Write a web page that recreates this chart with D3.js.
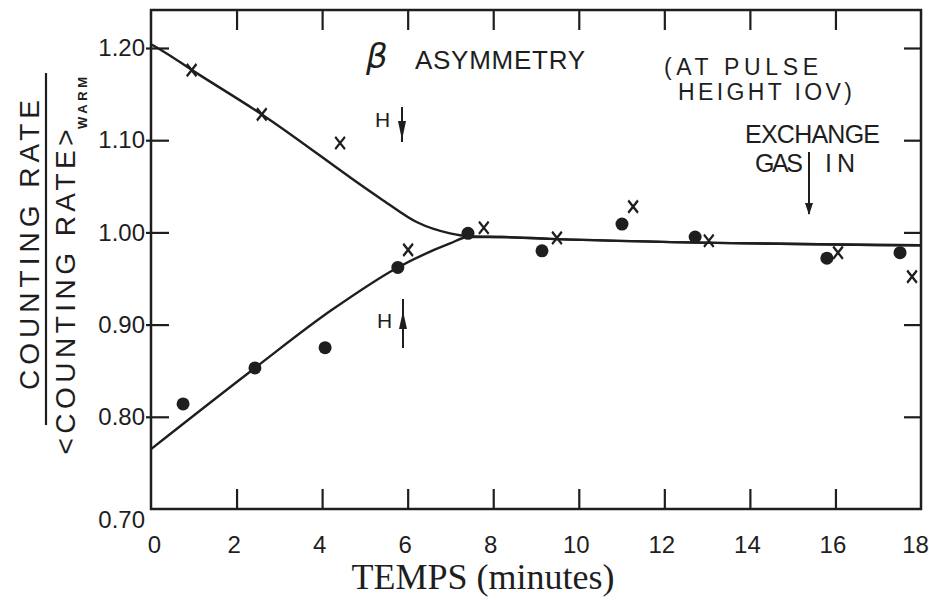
<!DOCTYPE html>
<html>
<head>
<meta charset="utf-8">
<script src="https://cdn.jsdelivr.net/npm/d3@7"></script>
<style>
  body { margin: 0; background: #fff; }
  svg { display: block; }
  .lab { font-family: "Liberation Sans", Arial, sans-serif; fill: #1e1e1e; }
</style>
</head>
<body>
<div id="main"></div>
<script>
'use strict';

// --- data ---
var dotTime   = [0.75, 2.43, 4.07, 5.77, 7.41, 9.14, 11.01, 12.72, 15.80, 17.51];
var dotRate   = [0.814, 0.853, 0.875, 0.962, 0.999, 0.980, 1.009, 0.995, 0.972, 0.978];
var crossTime = [0.95, 2.59, 4.42, 6.01, 7.78, 9.49, 11.27, 13.04, 16.06, 17.79];
var crossRate = [1.176, 1.128, 1.097, 0.981, 1.005, 0.994, 1.028, 0.991, 0.978, 0.952];

// fitted curves drawn by hand in the original
var upperTime = [0, 0.3, 0.96, 2.59, 5.42, 6.22, 6.99, 7.41, 8.2, 9.33, 18];
var upperRate = [1.204, 1.196, 1.176, 1.128, 1.035, 1.011, 0.999, 0.996, 0.995, 0.993, 0.986];
var lowerTime = [0, 2.43, 4.23, 5.77, 6.99, 7.41, 8.2, 9.33, 18];
var lowerRate = [0.765, 0.853, 0.916, 0.962, 0.988, 0.995, 0.995, 0.993, 0.986];

var xTicks = [0, 2, 4, 6, 8, 10, 12, 14, 16, 18];
var yTicks = [0.70, 0.80, 0.90, 1.00, 1.10, 1.20];
var yLabels = ['0.70', '0.80', '0.90', '1.00', '1.10', '1.20'];

var width = 929, height = 600;
var ink = '#1e1e1e';

var svg = d3.select('#main').append('svg')
  .attr('width', width).attr('height', height);

var x = d3.scaleLinear().domain([0, 18]).range([151, 921]);
var y = d3.scaleLinear().domain([0.70, 1.20]).range([509, 48]);
var yTop = 1.2412;

// frame
svg.append('rect')
  .attr('x', x(0)).attr('y', y(yTop))
  .attr('width', x(18) - x(0)).attr('height', y(0.70) - y(yTop))
  .attr('fill', 'none').attr('stroke', ink).attr('stroke-width', 2.5);

function cleanAxis(g) {
  g.select('.domain').remove();
  g.selectAll('.tick line').attr('stroke', ink).attr('stroke-width', 2.2);
  g.selectAll('.tick text').attr('class', 'lab').attr('font-size', 24).attr('fill', ink);
}

// bottom axis: inward ticks + labels
svg.append('g')
  .attr('transform', 'translate(0,' + y(0.70) + ')')
  .call(d3.axisBottom(x).tickValues(xTicks).tickSize(-20).tickPadding(27)
    .tickFormat(d3.format('d')))
  .call(cleanAxis)
  .call(function(g) {
    g.selectAll('.tick line').filter(function(d) { return d === 0 || d === 18; }).remove();
    g.selectAll('.tick text').attr('dx', function(d) { return d === 0 ? 3 : d === 18 ? -6 : -3; });
  });

// top axis: inward ticks only
svg.append('g')
  .attr('transform', 'translate(0,' + y(yTop) + ')')
  .call(d3.axisTop(x).tickValues(xTicks.slice(1, -1)).tickSize(-20).tickFormat(''))
  .call(cleanAxis);

// left axis: ticks cross the frame
svg.append('g')
  .attr('transform', 'translate(' + x(0) + ',0)')
  .call(d3.axisLeft(y).tickValues(yTicks).tickSize(5).tickPadding(1)
    .tickFormat(function(d, i) { return yLabels[i]; }))
  .call(cleanAxis)
  .call(function(g) {
    g.selectAll('.tick line').attr('x2', -5).attr('x1', 18)
      .filter(function(d) { return d === 0.70; }).remove();
    g.selectAll('.tick text').filter(function(d) { return d === 0.70; }).attr('dy', '0.75em');
  });

// right axis: inward ticks only
svg.append('g')
  .attr('transform', 'translate(' + x(18) + ',0)')
  .call(d3.axisRight(y).tickValues(yTicks.slice(1)).tickSize(-17).tickFormat(''))
  .call(cleanAxis);

// curves
var line = d3.line()
  .x(function(d) { return x(d[0]); })
  .y(function(d) { return y(d[1]); })
  .curve(d3.curveMonotoneX);

[[upperTime, upperRate], [lowerTime, lowerRate]].forEach(function(c) {
  svg.append('path')
    .datum(d3.zip(c[0], c[1]))
    .attr('d', line)
    .attr('fill', 'none').attr('stroke', ink).attr('stroke-width', 2.4);
});

// dots
svg.append('g').selectAll('circle')
  .data(d3.zip(dotTime, dotRate)).enter()
  .append('circle')
  .attr('cx', function(d) { return x(d[0]); })
  .attr('cy', function(d) { return y(d[1]); })
  .attr('r', 6.5)
  .attr('fill', ink);

// crosses
var cross = d3.symbol(d3.symbolTimes, 70);
svg.append('g').selectAll('path')
  .data(d3.zip(crossTime, crossRate)).enter()
  .append('path')
  .attr('d', cross)
  .attr('transform', function(d) {
    return 'translate(' + x(d[0]) + ',' + y(d[1]) + ') scale(0.95,1.2)';
  })
  .attr('fill', 'none').attr('stroke', ink).attr('stroke-width', 2.2);

// y axis title (fraction, rotated)
var yt = svg.append('g');
yt.append('text').attr('class', 'lab')
  .attr('transform', 'translate(39,245) rotate(-90)')
  .attr('text-anchor', 'middle').attr('font-size', 28)
  .attr('textLength', 290).attr('lengthAdjust', 'spacing')
  .text('COUNTING RATE');
yt.append('line')
  .attr('x1', 46).attr('x2', 46).attr('y1', 73).attr('y2', 425)
  .attr('stroke', ink).attr('stroke-width', 2.2);
yt.append('text').attr('class', 'lab')
  .attr('transform', 'translate(75,292) rotate(-90)')
  .attr('text-anchor', 'middle').attr('font-size', 28)
  .attr('textLength', 325).attr('lengthAdjust', 'spacing')
  .text('<COUNTING RATE>');
yt.append('text').attr('class', 'lab')
  .attr('transform', 'translate(87,103) rotate(-90)')
  .attr('text-anchor', 'middle').attr('font-size', 13).attr('font-weight', 'bold')
  .attr('textLength', 52).attr('lengthAdjust', 'spacing')
  .text('WARM');

// x axis title
svg.append('text')
  .attr('x', 483).attr('y', 589)
  .attr('text-anchor', 'middle')
  .attr('font-family', '"Liberation Serif", "Times New Roman", serif')
  .attr('font-size', 36).attr('fill', ink)
  .text('TEMPS (minutes)');

// annotations
function note(t, px, py, len, size) {
  svg.append('text').attr('class', 'lab')
    .attr('x', px).attr('y', py).attr('font-size', size || 26)
    .attr('textLength', len).attr('lengthAdjust', 'spacing')
    .text(t);
}

svg.append('text')
  .attr('x', 366).attr('y', 68)
  .attr('font-family', '"DejaVu Sans", sans-serif').attr('font-style', 'italic')
  .attr('font-size', 34).attr('fill', ink)
  .text('β');
note('ASYMMETRY', 415, 69, 170);
note('(AT PULSE', 664, 75, 154, 23);
note('HEIGHT IOV)', 678, 100, 174, 23);
note('EXCHANGE', 745, 143, 135, 25);
note('GAS', 755, 172, 48, 25);
note('IN', 825, 172, 30, 25);
note('H', 375, 127, 15, 21);
note('H', 377, 328, 16, 21);

// arrows
function arrow(ax, y1, y2, tipY, baseY) {
  svg.append('line')
    .attr('x1', ax).attr('x2', ax).attr('y1', y1).attr('y2', y2)
    .attr('stroke', ink).attr('stroke-width', 2);
  svg.append('path')
    .attr('d', 'M' + (ax - 4) + ',' + baseY + 'L' + (ax + 4) + ',' + baseY + 'L' + ax + ',' + tipY + 'Z')
    .attr('fill', ink);
}
arrow(809, 152, 214, 215, 203);   // exchange gas in
arrow(402, 107, 142, 140, 121);   // H down
arrow(403, 299, 348, 311, 329);   // H up
</script>
</body>
</html>
